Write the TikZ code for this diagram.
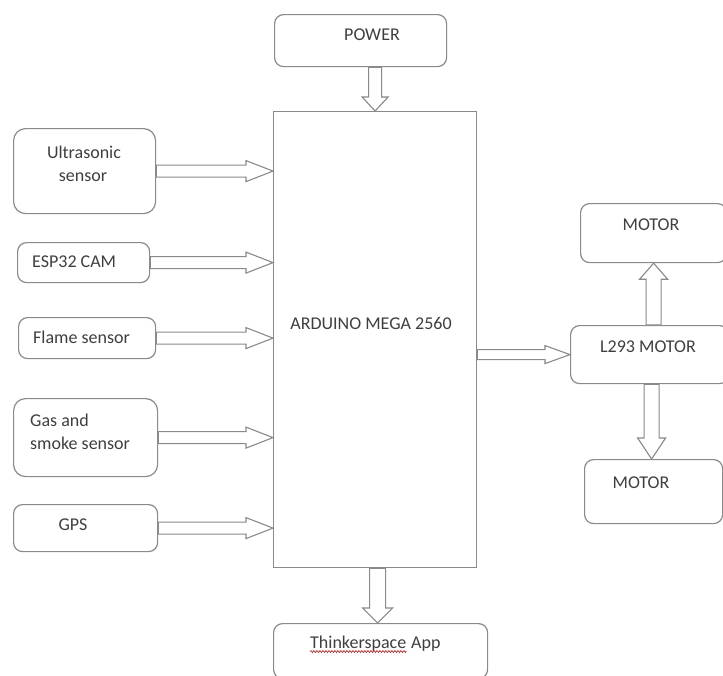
\documentclass[tikz,border=0pt]{standalone}
\usepackage{fontspec}
\setmainfont{Carlito}
\usetikzlibrary{calc,decorations.pathmorphing}
\definecolor{linegray}{HTML}{8A8A8A}
\definecolor{txtgray}{HTML}{3F3F3F}
\tikzset{
  box/.style={draw=linegray, line width=1.2pt, rounded corners=9pt, inner sep=0pt, anchor=north west},
  sqbox/.style={box, rounded corners=0pt},
  lbl/.style={text=txtgray, font=\fontsize{18}{22}\selectfont, inner sep=0pt, anchor=base},
  lbll/.style={lbl, anchor=base west},
  arrowline/.style={draw=linegray, line width=1.1pt, fill=white, line join=miter},
  squig/.style={draw=red!80!black, line width=0.6pt, decorate, decoration={snake, amplitude=0.9pt, segment length=3pt}},
}
% horizontal hollow arrow: start (#1), tip x from (#2); shaft half #3, head half #4, head length #5
\newcommand\myharrow[5]{\draw[arrowline] let \p1=(#1), \p2=(#2) in
  (\x1,\y1+#3pt) -- (\x2-#5pt,\y1+#3pt) -- (\x2-#5pt,\y1+#4pt) -- (\x2,\y1)
  -- (\x2-#5pt,\y1-#4pt) -- (\x2-#5pt,\y1-#3pt) -- (\x1,\y1-#3pt) -- cycle;}
% vertical hollow arrow pointing down
\newcommand\myvdown[5]{\draw[arrowline] let \p1=(#1), \p2=(#2) in
  (\x1-#3pt,\y1) -- (\x1-#3pt,\y2+#5pt) -- (\x1-#4pt,\y2+#5pt) -- (\x1,\y2)
  -- (\x1+#4pt,\y2+#5pt) -- (\x1+#3pt,\y2+#5pt) -- (\x1+#3pt,\y1) -- cycle;}
% vertical hollow arrow pointing up
\newcommand\myvup[5]{\draw[arrowline] let \p1=(#1), \p2=(#2) in
  (\x1-#3pt,\y1) -- (\x1-#3pt,\y2-#5pt) -- (\x1-#4pt,\y2-#5pt) -- (\x1,\y2)
  -- (\x1+#4pt,\y2-#5pt) -- (\x1+#3pt,\y2-#5pt) -- (\x1+#3pt,\y1) -- cycle;}
\begin{document}
\begin{tikzpicture}[x=1pt,y=-1pt]
\useasboundingbox[fill=white] (0,0) rectangle (723,675);

% boxes
\node[box, minimum width=172pt, minimum height=52pt] (power) at (274,14) {};
\node[sqbox, minimum width=203pt, minimum height=456pt] (ardu) at (273,111) {};
\node[box, rounded corners=12pt, minimum width=142pt, minimum height=85pt] (us) at (13,128) {};
\node[box, minimum width=132pt, minimum height=40pt] (esp) at (17,242) {};
\node[box, minimum width=137pt, minimum height=41pt] (flame) at (18,317) {};
\node[box, rounded corners=12pt, minimum width=144pt, minimum height=78pt] (gas) at (13,398) {};
\node[box, minimum width=144pt, minimum height=47pt] (gps) at (13,504) {};
\node[box, minimum width=214pt, minimum height=55pt] (app) at (273,623) {};
\node[box, minimum width=146pt, minimum height=59pt] (m1) at (580,203) {};
\node[box, minimum width=158pt, minimum height=58pt] (l293) at (570,325) {};
\node[box, minimum width=138pt, minimum height=64pt] (m2) at (584,459) {};

% texts
\node[lbl] (powert) at (372,40.5) {POWER};
\node[lbl] (ardut) at (371,329) {ARDUINO MEGA 2560};
\node[lbl] (ust1) at (84,158) {Ultrasonic};
\node[lbl] (ust2) at (83,181) {sensor};
\node[lbll] (espt) at (32,267.5) {ESP32 CAM};
\node[lbll] (flamet) at (33,343) {Flame sensor};
\node[lbll] (gast1) at (30,426) {Gas and};
\node[lbll] (gast2) at (30,449) {smoke sensor};
\node[lbl] (gpst) at (73,530.5) {GPS};
\node[lbl] (l293t) at (648,352.5) {L293 MOTOR};
\node[lbl] (m1t) at (651,230.5) {MOTOR};
\node[lbl] (m2t) at (641,488.5) {MOTOR};
\node[lbll] (appt1) at (310,648.5) {Thinkerspace};
\node[lbll] (appt2) at ([xshift=4.5pt]appt1.base east) {App};
\draw[squig] ([yshift=-3pt]appt1.base west) -- ([yshift=-3pt]appt1.base east);

% arrows into the Arduino
\myvdown{ardu.north |- power.south}{ardu.north}{6.5}{13}{14}
\myharrow{us.east}{ardu.west}{6}{10.5}{27}
\myharrow{esp.east}{ardu.west}{6}{10.5}{27}
\myharrow{flame.east}{ardu.west}{6}{10.5}{27}
\myharrow{gas.east}{ardu.west}{6}{10.5}{27}
\myharrow{gps.east}{ardu.west}{6}{10.5}{27}
% arrows out of the Arduino
\myvdown{[xshift=2.5pt]ardu.south}{app.north}{8}{15}{15}
\myharrow{ardu.east |- l293.west}{l293.west}{5}{9}{25}
% driver to motors
\myvup{m1.south |- l293.north}{m1.south}{7.5}{14}{16}
\myvdown{[xshift=2pt]l293.south}{m2.north}{7.5}{14}{21}
\end{tikzpicture}
\end{document}
